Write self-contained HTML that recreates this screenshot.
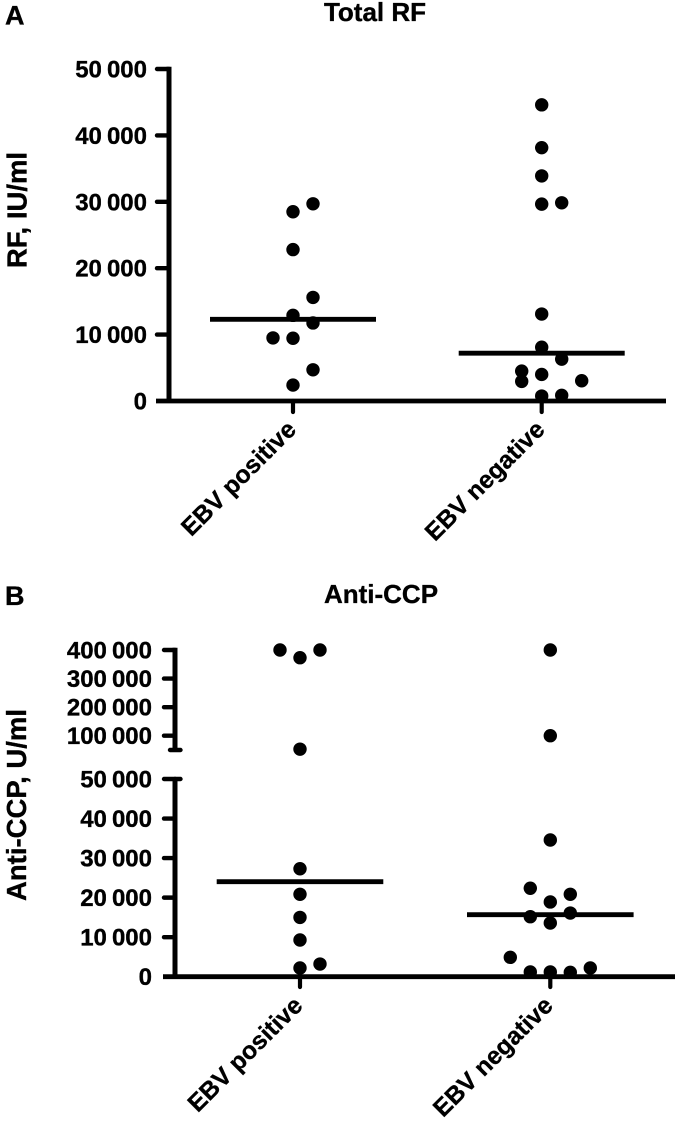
<!DOCTYPE html>
<html>
<head>
<meta charset="utf-8">
<style>
html,body{margin:0;padding:0;background:#fff;}
svg{display:block;}
text{font-family:"Liberation Sans",Arial,sans-serif;font-weight:bold;fill:#000;stroke:#000;stroke-width:0.35px;}
.tick{font-size:24px;text-anchor:end;word-spacing:-1.6px;}
.title{font-size:26px;text-anchor:middle;}
.panel{font-size:27px;}
.ytitle{font-size:27.5px;text-anchor:middle;}
.cat{font-size:24.6px;text-anchor:end;}
</style>
</head>
<body>
<svg id="fig" xmlns="http://www.w3.org/2000/svg" width="680" height="1122" viewBox="0 0 680 1122">
  <text class="panel" x="5" y="24.5">A</text>
  <text class="title" x="375" y="21">Total RF</text>
  <text class="ytitle" transform="translate(26.5 210) rotate(-90)">RF, IU/ml</text>
  <text class="panel" x="5" y="605">B</text>
  <text class="title" x="381" y="603">Anti-CCP</text>
  <text class="ytitle" transform="translate(26 805) rotate(-90)">Anti-CCP, U/ml</text>
</svg>
<script>
// Shared categories
const categories = ["EBV positive", "EBV negative"];

// Panel A: Total RF
const aTickValues = [0, 10000, 20000, 30000, 40000, 50000];
const aTickLabels = ["0", "10 000", "20 000", "30 000", "40 000", "50 000"];
const aPositive = [29700, 28500, 22800, 15600, 12900, 11750, 9500, 9450, 4700, 2400];
const aPositiveSlots = [1, 0, 0, 1, 0, 1, -1, 0, 1, 0];
const aNegative = [44600, 38150, 33900, 29650, 29850, 13100, 8100, 6300, 4500, 4000, 2950, 3050, 750, 850];
const aNegativeSlots = [0, 0, 0, 0, 1, 0, 0, 1, -1, 0, -1, 2, 0, 1];
const aMeans = [12300, 7200];

// Panel B: Anti-CCP (broken axis)
const bTickValues = [0, 10000, 20000, 30000, 40000, 50000, 100000, 200000, 300000, 400000];
const bTickLabels = ["0", "10 000", "20 000", "30 000", "40 000", "50 000", "100 000", "200 000", "300 000", "400 000"];
const bPositive = [400000, 373000, 400000, 53000, 27300, 20840, 15000, 9280, 2200, 3200];
const bPositiveSlots = [-1, 0, 1, 0, 0, 0, 0, 0, 0, 1];
const bNegative = [400000, 100000, 34570, 22370, 20840, 18900, 16100, 15170, 13580, 4900, 2200, 1190, 1190, 1100];
const bNegativeSlots = [0, 0, 0, -1, 1, 0, 1, -1, 0, -2, 2, -1, 0, 1];
const bMeans = [24030, 15680];
const bBreakLower = 50000;

const svg = document.getElementById('fig');
const NS = 'http://www.w3.org/2000/svg';
const SLOT = 20;
const DOT_R = 6.7;

function line(x1, y1, x2, y2, w, cap) {
  const el = document.createElementNS(NS, 'line');
  el.setAttribute('x1', x1);
  el.setAttribute('y1', y1);
  el.setAttribute('x2', x2);
  el.setAttribute('y2', y2);
  el.setAttribute('stroke', '#000');
  el.setAttribute('stroke-width', w);
  el.setAttribute('stroke-linecap', cap || 'butt');
  svg.appendChild(el);
  return el;
}
function label(x, y, cls, str, transform) {
  const el = document.createElementNS(NS, 'text');
  el.setAttribute('class', cls);
  if (transform) {
    el.setAttribute('transform', transform);
  } else {
    el.setAttribute('x', x);
    el.setAttribute('y', y);
  }
  el.textContent = str;
  svg.appendChild(el);
  return el;
}
function dot(x, y) {
  const el = document.createElementNS(NS, 'circle');
  el.setAttribute('cx', x);
  el.setAttribute('cy', y);
  el.setAttribute('r', DOT_R);
  el.setAttribute('fill', '#000');
  svg.appendChild(el);
  return el;
}

// Panel A scales
const aY = v => 401 - v / 50000 * 332;
const aX = i => 293 + i * 248.7;

// Panel A axes
const aYAxis = line(169, aY(50000) - 2.2, 169, aY(0) + 2, 5);


const aXAxis = line(156, aY(0), 666, aY(0), 4.8);



aTickValues.forEach((v, i) => {
  if (v !== 0) {
    const t = line(157, aY(v), 169, aY(v), 4.4, 'round');
    
    
  }
  const l = label(147, aY(v) + 8.5, 'tick', aTickLabels[i]);
  
  
});

// Panel A points
aPositive.forEach((v, i) => {
  const d = dot(aX(0) + aPositiveSlots[i] * SLOT, aY(v));
  
  
});
aNegative.forEach((v, i) => {
  const d = dot(aX(1) + aNegativeSlots[i] * SLOT, aY(v));
  
  
});

// Panel A means, category ticks and labels
aMeans.forEach((v, i) => {
  const m = line(aX(i) - 83, aY(v), aX(i) + 83, aY(v), 4.8);
  
  
});
categories.forEach((c, i) => {
  const t = line(aX(i), aY(0), aX(i), 412, 4.2, 'round');
  
  
  const l = label(0, 0, 'cat', c, 'translate(' + (aX(i) + 4.5) + ' 431) rotate(-45)');
  
  
});

// Panel B scales: lower segment 0-50 000, upper segment 50 000-400 000
const bY = v => v <= bBreakLower
  ? 976.7 - v / bBreakLower * 197.7
  : 650 + (400000 - v) / 350000 * 100;
const bX = i => 300 + i * 250.3;

// Panel B axes
const bYLower = line(175, bY(bBreakLower) - 2, 175, bY(0) + 2, 5);


const bYUpper = line(175, bY(400000) - 2.2, 175, 750, 5);


const bCapUpper = line(170, 750, 180.5, 750, 4.4, 'round');


const bCapLower = line(175, bY(bBreakLower), 180.5, bY(bBreakLower), 4.4, 'round');


const bXAxis = line(163, bY(0), 675, bY(0), 4.8);



bTickValues.forEach((v, i) => {
  if (v !== 0) {
    const t = line(164, bY(v), 175, bY(v), 4.4, 'round');
    
    
  }
  const l = label(152, bY(v) + 8.5, 'tick', bTickLabels[i]);
  
  
});

// Panel B points
bPositive.forEach((v, i) => {
  const d = dot(bX(0) + bPositiveSlots[i] * SLOT, bY(v));
  
  
});
bNegative.forEach((v, i) => {
  const d = dot(bX(1) + bNegativeSlots[i] * SLOT, bY(v));
  
  
});

// Panel B means, category ticks and labels
bMeans.forEach((v, i) => {
  const m = line(bX(i) - 83.3, bY(v), bX(i) + 83.3, bY(v), 4.8);
  
  
});
categories.forEach((c, i) => {
  const t = line(bX(i), bY(0), bX(i), 987, 4.2, 'round');
  
  
  const l = label(0, 0, 'cat', c, 'translate(' + (bX(i) + 4) + ' 1007) rotate(-45)');
  
  
});
</script>
</body>
</html>
